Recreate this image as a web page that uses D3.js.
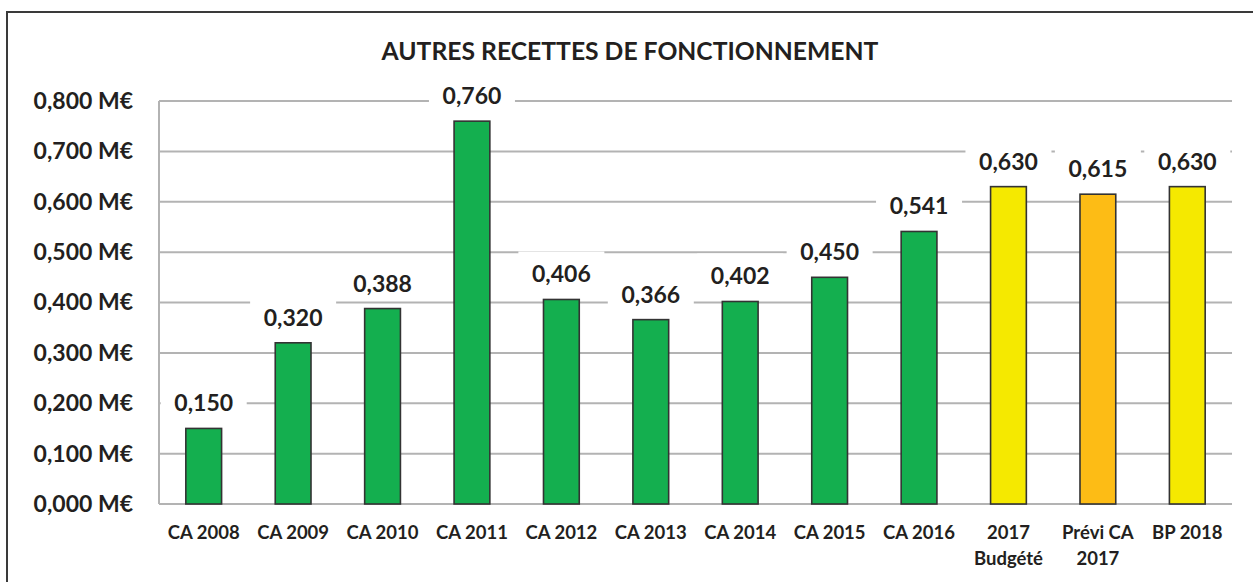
<html>
<head>
    <meta charset="UTF-8">
    <title>Autres recettes de fonctionnement</title>
    <script src="https://d3js.org/d3.v7.min.js"></script>
    <style>
        body { margin: 0; background: #fff; }
        text { font-family: Lato, "Open Sans", sans-serif; font-weight: bold; fill: #231f20; }
    </style>
</head>
<body>
    <svg width="1253" height="582"></svg>
    <script>
        // donnees
        var categories = ['CA 2008', 'CA 2009', 'CA 2010', 'CA 2011', 'CA 2012', 'CA 2013', 'CA 2014',
                          'CA 2015', 'CA 2016', '2017\nBudgété', 'Prévi CA\n2017', 'BP 2018'];
        var values = [0.150, 0.320, 0.388, 0.760, 0.406, 0.366, 0.402, 0.450, 0.541, 0.630, 0.615, 0.630];
        var kinds = ['ca', 'ca', 'ca', 'ca', 'ca', 'ca', 'ca', 'ca', 'ca', 'budget', 'previ', 'budget'];
        var yTicks = [0, 0.1, 0.2, 0.3, 0.4, 0.5, 0.6, 0.7, 0.8];
        var title = 'AUTRES RECETTES DE FONCTIONNEMENT';

        var colors = { ca: '#14af4f', budget: '#f5e900', previ: '#fdbc15' };
        var fr = d3.formatLocale({ decimal: ',', thousands: ' ', grouping: [3], currency: ['', ' €'] });
        var fmt = fr.format('.3f');

        var svg = d3.select('svg'),
            margin = { top: 101, right: 21, bottom: 78, left: 159 },
            width = +svg.attr('width') - margin.left - margin.right,
            height = +svg.attr('height') - margin.top - margin.bottom;

        // cadre (coupe a droite et en bas)
        svg.append('rect')
            .attr('x', 7).attr('y', 12)
            .attr('width', 1300).attr('height', 700)
            .attr('fill', 'none').attr('stroke', '#3a3a3a').attr('stroke-width', 2);

        svg.append('text')
            .attr('x', 630).attr('y', 50)
            .attr('text-anchor', 'middle').attr('dominant-baseline', 'central')
            .style('font-size', '24.7px')
            .text(title);

        var g = svg.append('g').attr('transform', 'translate(' + margin.left + ',' + margin.top + ')');

        var x = d3.scaleBand().domain(categories).range([0, width]).paddingInner(0.6).paddingOuter(0.3);
        var y = d3.scaleLinear().domain([0, 0.8]).range([height, 0]);

        // grille
        g.append('g').selectAll('line').data(yTicks).join('line')
            .attr('x1', 0).attr('x2', width)
            .attr('y1', d => y(d)).attr('y2', d => y(d))
            .attr('stroke', '#b3b3b3').attr('stroke-width', 2);
        g.append('line')
            .attr('x1', 0).attr('x2', 0).attr('y1', y(0.8)).attr('y2', y(0))
            .attr('stroke', '#b3b3b3').attr('stroke-width', 2);

        var yAxis = g.append('g')
            .call(d3.axisLeft(y).tickValues(yTicks).tickSize(0).tickPadding(26)
                .tickFormat(d => fmt(d) + ' M€'));
        yAxis.select('.domain').remove();
        yAxis.selectAll('text').style('font-size', '23px').attr('fill', '#231f20');

        // etiquettes de valeur avec fond blanc
        var labels = g.append('g').selectAll('g').data(values).join('g')
            .attr('transform', (d, i) => 'translate(' + (x(categories[i]) + x.bandwidth() / 2) + ',' + (y(d) - 26) + ')');
        labels.append('rect')
            .attr('x', -43).attr('y', -22).attr('width', 86).attr('height', 38)
            .attr('fill', '#fff');
        labels.append('text')
            .attr('text-anchor', 'middle').attr('dominant-baseline', 'central')
            .style('font-size', '23px')
            .text(d => fmt(d));

        g.append('g').selectAll('rect').data(values).join('rect')
            .attr('x', (d, i) => x(categories[i]))
            .attr('width', x.bandwidth())
            .attr('y', d => y(d))
            .attr('height', d => y(0) - y(d))
            .attr('fill', (d, i) => colors[kinds[i]])
            .attr('stroke', '#333').attr('stroke-width', 1.6);

        // axe des categories
        var xAxis = g.append('g').attr('transform', 'translate(0,' + height + ')')
            .call(d3.axisBottom(x).tickSize(0).tickPadding(0).tickFormat(''));
        xAxis.select('.domain').remove();
        xAxis.selectAll('.tick').each(function(d) {
            var t = d3.select(this).append('text')
                .attr('text-anchor', 'middle')
                .style('font-size', '18.5px');
            d.split('\n').forEach(function(line, k) {
                t.append('tspan').attr('x', 0).attr('y', 28 + k * 26)
                    .attr('dominant-baseline', 'central').text(line);
            });
        });
    </script>
</body>
</html>
